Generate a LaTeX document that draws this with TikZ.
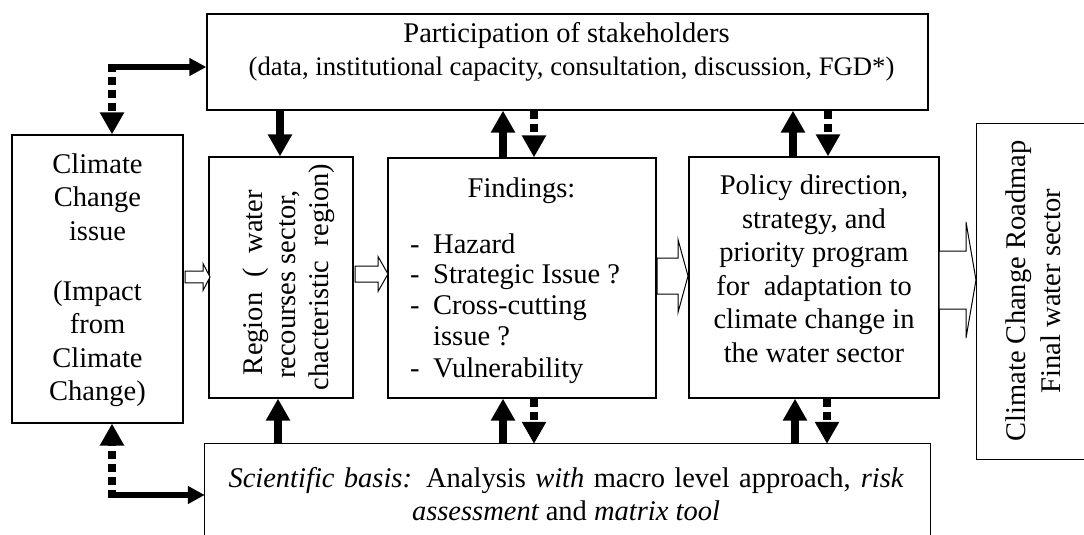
\documentclass[tikz,border=0pt]{standalone}
\usepackage{fontspec}
\setmainfont{Liberation Serif}
\usetikzlibrary{arrows.meta}

% open (outlined) block arrow: tail x, head-base x, tip x, mid y, shaft half-height, head half-height
\newcommand\blockarrow[6]{%
  \draw[blk] (#1,{#4-#5}) -- (#2,{#4-#5}) -- (#2,{#4-#6}) -- (#3,#4)
    -- (#2,{#4+#6}) -- (#2,{#4+#5}) -- (#1,{#4+#5}) -- cycle;}

\begin{document}
\begin{tikzpicture}[x=1pt,y=-1pt,
  box/.style={draw, line width=1.3pt, inner sep=0pt},
  openbox/.style={inner sep=0pt},
  boxline/.style={line width=1.3pt},
  txt/.style={anchor=base, inner sep=0pt, font=\fontsize{28.5}{33.5}\selectfont},
  subtxt/.style={txt, font=\fontsize{26.7}{31}\selectfont},
  itemtxt/.style={txt, anchor=base west},
  blk/.style={draw, line width=1pt, fill=white, line join=miter},
  bigsolid/.style={line width=8.5pt, -{Triangle[length=22pt,width=23pt]}},
  bigdash/.style={line width=8.5pt, dash pattern=on 8pt off 5pt,
                  -{Triangle[length=22pt,width=23pt]}},
  link/.style={line width=6.5pt, -{Triangle[length=17pt,width=17pt]}},
]
\useasboundingbox (0,0) rectangle (1084,535);

% ---- boxes ----
\node[box, minimum width=721pt, minimum height=96pt]  (stake) at (567.5,62)   {};
\node[box, minimum width=171pt, minimum height=288pt] (clim)  at (97.5,279)   {};
\node[box, minimum width=144pt, minimum height=241pt] (reg)   at (281,277.5)  {};
\node[box, minimum width=268pt, minimum height=240pt] (find)  at (522,278)    {};
\node[box, minimum width=250pt, minimum height=241pt] (pol)   at (814,277.5)  {};
% these two run past the edge of the page, so their far side stays open
\node[openbox, minimum width=113pt, minimum height=335pt] (fin) at (1033.5,291.5) {};
\draw[boxline] (fin.north east) -- (fin.north west) -- (fin.south west) -- (fin.south east);
\node[openbox, minimum width=725pt, minimum height=101pt] (sci) at (567.5,494.5) {};
\draw[boxline] (sci.south west) -- (sci.north west) -- (sci.north east) -- (sci.south east);

% ---- texts ----
\node[txt]    (stake-1) at (566.5,43) {Participation of stakeholders};
\node[subtxt] (stake-2) at (571.5,75) {(data, institutional capacity, consultation, discussion, FGD*)};

\node[txt] (clim-1) at (97.5,173) {Climate};
\node[txt] (clim-2) at (97.5,206.5) {Change};
\node[txt] (clim-3) at (97.5,240) {issue};
\node[txt] (clim-4) at (97.5,300) {(Impact};
\node[txt] (clim-5) at (97.5,333.5) {from};
\node[txt] (clim-6) at (97.5,367) {Climate};
\node[txt] (clim-7) at (97.5,400.5) {Change)};

\node[txt, rotate=90] (reg-1) at (262,282.5) {\makebox[185pt][s]{Region ( water}};
\node[txt, rotate=90] (reg-2) at (295,284.5) {recourses sector,};
\node[txt, rotate=90] (reg-3) at (328,277) {chacteristic\ \ region)};

\node[txt] (find-0) at (521.5,197) {Findings:};
\node[itemtxt] (find-d1) at (410,253) {-};
\node[itemtxt] (find-1)  at (433,253) {Hazard};
\node[itemtxt] (find-d2) at (410,283) {-};
\node[itemtxt] (find-2)  at (433,283) {Strategic Issue ?};
\node[itemtxt] (find-d3) at (410,314) {-};
\node[itemtxt] (find-3)  at (433,314) {Cross-cutting};
\node[itemtxt] (find-3b) at (433,345) {issue ?};
\node[itemtxt] (find-d4) at (410,377) {-};
\node[itemtxt] (find-4)  at (433,377) {Vulnerability};

\node[txt] (pol-1) at (814,194.5) {Policy direction,};
\node[txt] (pol-2) at (814,228) {strategy, and};
\node[txt] (pol-3) at (814,261.5) {priority program};
\node[txt] (pol-4) at (814,295) {for\ \ adaptation to};
\node[txt] (pol-5) at (814,328.5) {climate change in};
\node[txt] (pol-6) at (814,362) {the water sector};

\node[txt, rotate=90] (fin-1) at (1025,291) {Climate Change Roadmap};
\node[txt, rotate=90] (fin-2) at (1060,291) {Final water sector};

\node[txt] (sci-1) at (566,487) {\makebox[675pt][s]{\itshape Scientific basis:\upshape{} Analysis \itshape with\upshape{} macro level approach, \itshape risk}};
\node[txt] (sci-2) at (566,520) {\itshape assessment\upshape{} and \itshape matrix tool};

% ---- open block arrows along the main flow ----
\blockarrow{185}{203}{210}{277}{5.8}{13.5}
\blockarrow{355}{378}{388}{274}{8}{17.5}
\blockarrow{657}{678}{688}{276}{18}{36.5}
\blockarrow{939}{966}{976}{280}{29}{58}

% ---- stakeholder / scientific links ----
\draw[bigsolid] (280,0 |- stake.south) -- (280,0 |- reg.north);
\draw[bigsolid] (278,0 |- sci.north)   -- (278,0 |- reg.south);

\draw[bigsolid] (503,0 |- find.north) -- (503,0 |- stake.south);
\draw[bigdash]  (534,0 |- stake.south) -- (534,0 |- find.north);
\draw[bigsolid] (503,0 |- sci.north)  -- (503,0 |- find.south);
\draw[bigdash]  (534,0 |- find.south) -- (534,0 |- sci.north);

\draw[bigsolid] (793,0 |- pol.north) -- (793,0 |- stake.south);
\draw[bigdash]  (828,0 |- stake.south) -- (828,0 |- pol.north);
\draw[bigsolid] (795,0 |- sci.north) -- (795,0 |- pol.south);
\draw[bigdash]  (827,0 |- pol.south) -- (827,0 |- sci.north);

% ---- L-shaped links from the climate issue box ----
\coordinate (ctop) at (112,67);
\coordinate (cbot) at (112,495);
\draw[bigdash] ([yshift=3.25pt]ctop) -- (ctop |- clim.north);
\draw[link] ([xshift=-4.25pt]ctop) -- (ctop -| stake.west);
\draw[bigdash] ([yshift=-3.25pt]cbot) -- (cbot |- clim.south);
\draw[link] ([xshift=-4.25pt]cbot) -- (cbot -| sci.west);
\end{tikzpicture}
\end{document}
